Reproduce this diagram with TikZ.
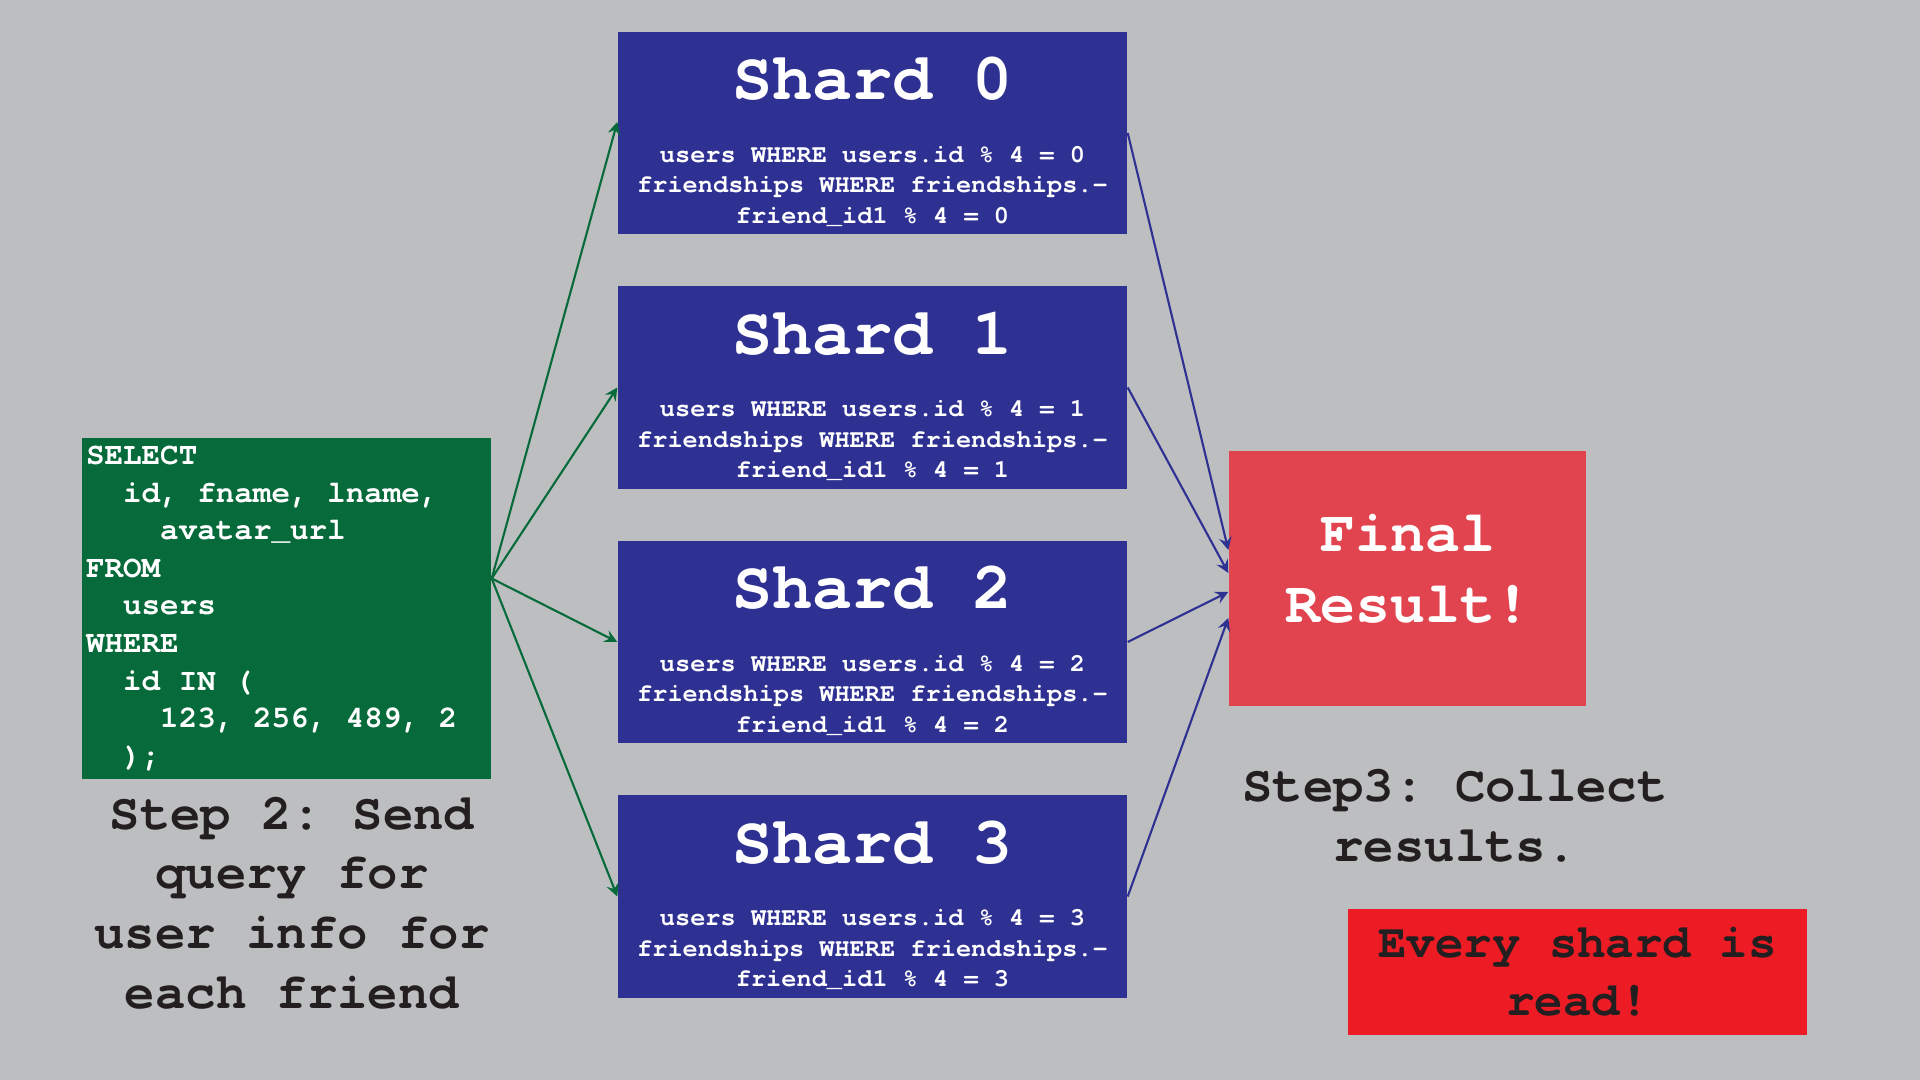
\documentclass[tikz,border=0pt]{standalone}
\usepackage{fontspec}
\newfontfamily\cour{texgyrecursor}[Extension=.otf, UprightFont=*-regular, BoldFont=*-bold, WordSpace={1,0,0}, PunctuationSpace=WordSpace]
\setlength{\parindent}{0pt}
\frenchspacing
\definecolor{bggray}{HTML}{BCBEC0}
\definecolor{sqlgreen}{HTML}{066A3A}
\definecolor{shardblue}{HTML}{2E3192}
\definecolor{finalred}{HTML}{E1444E}
\definecolor{alertred}{HTML}{ED1C24}
\definecolor{darktext}{HTML}{231F20}
\newcommand{\shardtitle}{\fontsize{19}{22}\selectfont}

\begin{document}
\begin{tikzpicture}[node distance=2.545cm,
  query/.style={fill=sqlgreen, text=white, minimum width=4.09cm, minimum height=3.41cm, text width=4.01cm, inner sep=0.04cm, align=left, execute at begin node={\spaceskip=0pt\xspaceskip=0pt}, font=\cour\bfseries\fontsize{8.8}{10.7}\selectfont},
  shard/.style={fill=shardblue, text=white, minimum width=5.09cm, minimum height=2.02cm, inner sep=0pt, text height=54.5pt, text depth=3pt, align=center, font=\cour\bfseries\fontsize{7.2}{8.7}\selectfont},
  result/.style={fill=finalred, text=white, minimum width=3.57cm, minimum height=2.55cm, inner sep=0pt, text height=48.7pt, text depth=23.85pt, align=center, font=\cour\bfseries\fontsize{16.6}{20.2}\selectfont},
  alert/.style={fill=alertred, text=darktext, minimum width=4.59cm, minimum height=1.26cm, inner sep=0pt, align=center, font=\cour\bfseries\fontsize{13.5}{16.5}\selectfont},
  steptext/.style={text=darktext, inner sep=0pt, align=center, font=\cour\bfseries\fontsize{14.4}{17}\selectfont},
  send/.style={arrows=-stealth, draw=sqlgreen, line width=0.6pt},
  collect/.style={arrows=-stealth, draw=shardblue, line width=0.6pt}]
\fill[bggray] (0,0) rectangle (19.2,10.8);

\node (sql)[query] at (2.865,4.715) {SELECT\\
\hspace*{1.2em}id, fname, lname,\\
\hspace*{2.4em}avatar\_url\\
FROM\\
\hspace*{1.2em}users\\
WHERE\\
\hspace*{1.2em}id IN (\\
\hspace*{2.4em}123, 256, 489, 2\\
\hspace*{1.2em});};
\node (step2)[steptext] at (2.92,1.77) {Step 2: Send\\query for\\user info for\\each friend};

\node (s0)[shard] at (8.725,9.47) {{\shardtitle Shard 0}\\[9.15pt]users WHERE users.id \% 4 = 0\\friendships WHERE friendships.-\\friend\_id1 \% 4 = 0};
\node (s1)[shard] [below of = s0] {{\shardtitle Shard 1}\\[9.15pt]users WHERE users.id \% 4 = 1\\friendships WHERE friendships.-\\friend\_id1 \% 4 = 1};
\node (s2)[shard] [below of = s1] {{\shardtitle Shard 2}\\[9.15pt]users WHERE users.id \% 4 = 2\\friendships WHERE friendships.-\\friend\_id1 \% 4 = 2};
\node (s3)[shard] [below of = s2] {{\shardtitle Shard 3}\\[9.15pt]users WHERE users.id \% 4 = 3\\friendships WHERE friendships.-\\friend\_id1 \% 4 = 3};

\node (final)[result] at (14.075,5.015) {Final\\Result!};
\node (step3)[steptext] at (14.55,2.64) {Step3: Collect\\results.};
\node (warn)[alert] at (15.775,1.08) {Every shard is\\read!};

% step 2: fan out
\coordinate (fanout) at ([yshift=0.3cm]sql.east);
\draw[send] (fanout) -- ([yshift=0.11cm]s0.west);
\draw[send] (fanout) -- (s1.west);
\draw[send] (fanout) -- (s2.west);
\draw[send] (fanout) -- (s3.west);

% step 3: collect
\draw[collect] (s0.east) -- ([yshift=0.285cm]final.west);
\draw[collect] (s1.east) -- ([yshift=0.055cm]final.west);
\draw[collect] (s2.east) -- ([yshift=-0.135cm]final.west);
\draw[collect] (s3.east) -- ([yshift=-0.395cm]final.west);

\end{tikzpicture}
\end{document}
